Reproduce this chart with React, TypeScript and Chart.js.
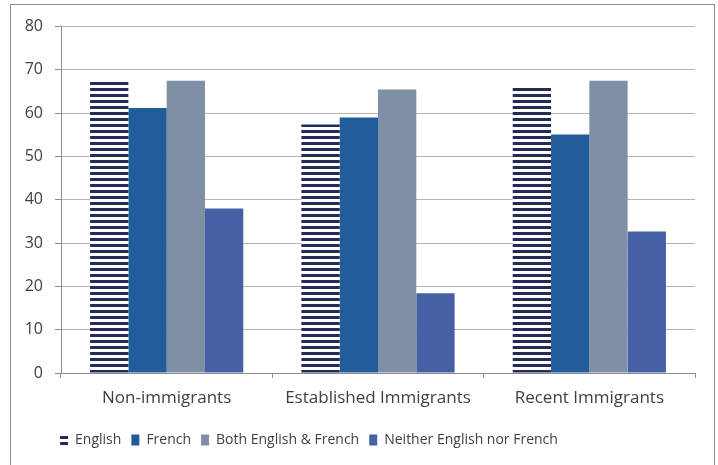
import React, { useEffect, useRef } from "react";
import { Chart, registerables } from "chart.js";

Chart.register(...registerables);

const categories = ["Non-immigrants", "Established Immigrants", "Recent Immigrants"];
const seriesNames = ["English", "French", "Both English & French", "Neither English nor French"];
const english = [67.3, 57.4, 65.9];
const french = [61.2, 59.0, 55.1];
const both = [67.5, 65.5, 67.5];
const neither = [38.0, 18.4, 32.7];
const yMin = 0;
const yMax = 80;
const yStep = 10;

const TEXT = "#404040";
const AXIS = "#8c8c8c";
const GRID = "#b4b4b4";
const NAVY = "#242a5a";
const LEGEND_CENTER = 298;

function makeStripes(offsetY: number): CanvasPattern | string {
  const c = document.createElement("canvas");
  c.width = 6;
  c.height = 6;
  const g = c.getContext("2d");
  if (!g) return NAVY;
  g.fillStyle = "#ffffff";
  g.fillRect(0, 0, 6, 6);
  g.fillStyle = NAVY;
  g.fillRect(0, 0, 6, 3);
  const p = g.createPattern(c, "repeat");
  if (!p) return NAVY;
  if (offsetY) p.setTransform(new DOMMatrix().translate(0, offsetY));
  return p;
}

const legendShift = {
  id: "legendShift",
  afterLayout(chart: any) {
    const lg = chart.legend;
    if (!lg) return;
    const c = (lg.left + lg.right) / 2;
    const d = LEGEND_CENTER - c;
    lg.left += d;
    lg.right += d;
  },
};

export default function App() {
  const ref = useRef<HTMLCanvasElement | null>(null);

  useEffect(() => {
    if (!ref.current) return;
    Chart.defaults.font.family = "'Open Sans', sans-serif";
    Chart.defaults.color = TEXT;
    const stripeColor = (ctx: any) => {
      if (ctx.type === "data" && ctx.chart.scales && ctx.chart.scales.y) {
        const top = ctx.chart.scales.y.getPixelForValue(ctx.raw);
        return makeStripes(Math.round(top));
      }
      return makeStripes(0);
    };
    const chart = new Chart(ref.current, {
      type: "bar",
      data: {
        labels: categories,
        datasets: [
          { label: seriesNames[0], data: english, backgroundColor: stripeColor as any },
          { label: seriesNames[1], data: french, backgroundColor: "#215d9a" },
          { label: seriesNames[2], data: both, backgroundColor: "#7f8fa6" },
          { label: seriesNames[3], data: neither, backgroundColor: "#4561a4" },
        ],
      },
      plugins: [legendShift],
      options: {
        responsive: false,
        animation: false,
        layout: { padding: { left: 0, top: 20, right: 19, bottom: 8 } },
        datasets: {
          bar: { barPercentage: 1, categoryPercentage: 0.725, borderWidth: 0 },
        },
        plugins: {
          legend: {
            position: "bottom",
            align: "center",
            labels: {
              boxWidth: 8,
              boxHeight: 11,
              padding: 10,
              color: TEXT,
              font: { size: 14 },
            },
          },
          tooltip: { enabled: false },
        },
        scales: {
          x: {
            afterFit: (s: any) => {
              s.height = 50;
            },
            grid: {
              display: true,
              drawOnChartArea: false,
              drawTicks: true,
              tickLength: 5,
              tickColor: AXIS,
              offset: true,
            },
            border: { display: true, color: AXIS },
            ticks: { color: TEXT, font: { size: 17 }, padding: 10, maxRotation: 0 },
          },
          y: {
            min: yMin,
            max: yMax,
            afterFit: (s: any) => {
              s.width = 50;
            },
            grid: {
              color: GRID,
              borderDash: [2, 2],
              tickLength: 6,
              tickColor: AXIS,
              tickBorderDash: [],
            } as any,
            border: { display: true, color: AXIS },
            ticks: { stepSize: yStep, color: TEXT, font: { size: 16 }, padding: 12 },
          },
        },
      } as any,
    });
    return () => chart.destroy();
  }, []);

  return (
    <div
      style={{
        position: "absolute",
        left: 10,
        top: 4,
        width: 703,
        height: 461,
        border: "1px solid #8a8a8a",
        background: "#ffffff",
      }}
    >
      <canvas ref={ref} width={703} height={460} style={{ display: "block", width: 703, height: 460 }} />
    </div>
  );
}
